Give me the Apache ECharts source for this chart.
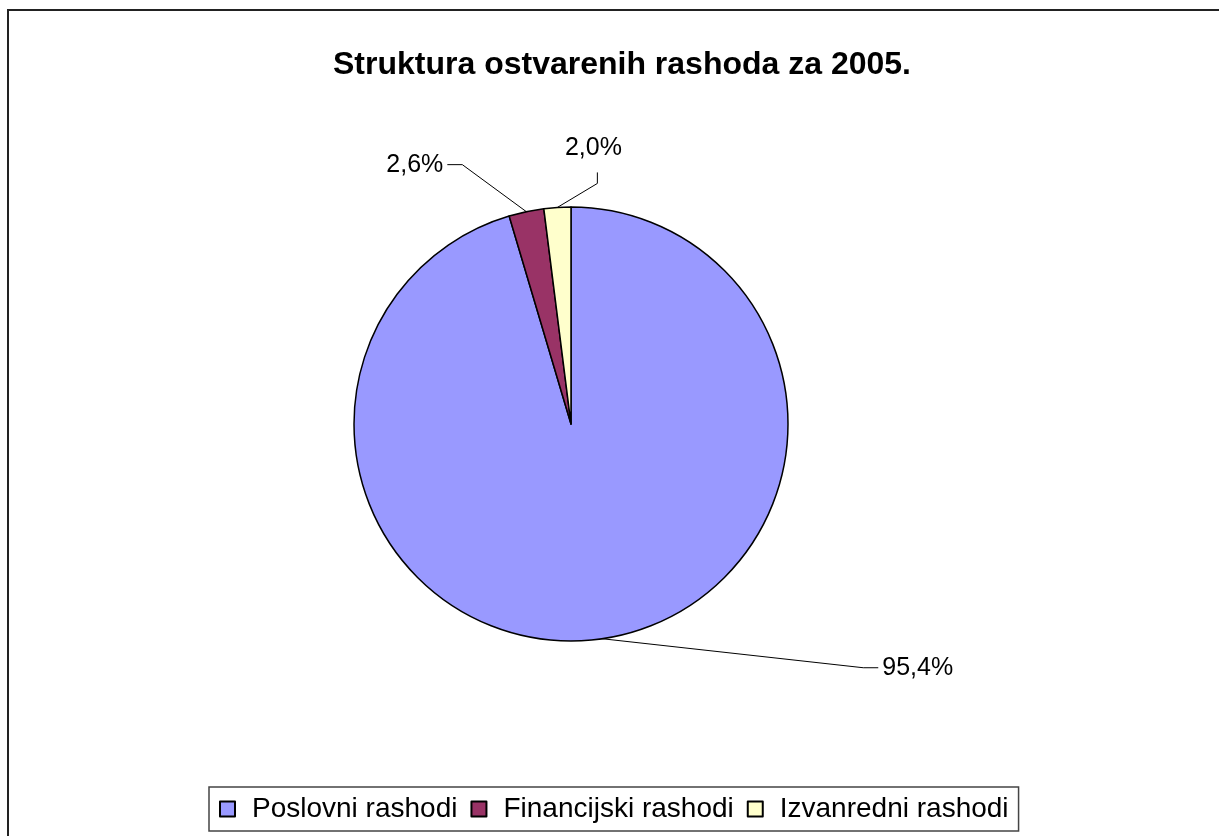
<!DOCTYPE html>
<html>
<head>
<meta charset="utf-8">
<script src="https://cdn.jsdelivr.net/npm/echarts@6/dist/echarts.min.js"></script>
<style>
  html, body { margin: 0; padding: 0; background: #fff; }
  #chart { width: 1219px; height: 836px; }
</style>
</head>
<body>
<div id="chart"></div>
<script>
const title = 'Struktura ostvarenih rashoda za 2005.';
const categories = ['Poslovni rashodi', 'Financijski rashodi', 'Izvanredni rashodi'];
const shares = [95.4, 2.6, 2.0];
const colors = ['#9999ff', '#993366', '#ffffcc'];

// leader line bends, relative to the slice edge point ECharts gives us
const bends = [
  { elbow: [261, 29], end: [276, 29], dx: 4, dy: 0, align: 'left', va: 'middle' },
  { elbow: [-64, -47], end: [-79, -47], dx: -4, dy: 0, align: 'right', va: 'middle' },
  { elbow: [40, -24], end: [40, -35], dx: -4, dy: -12, align: 'center', va: 'bottom' },
];

const fmt = (v) => v.toFixed(1).replace('.', ',') + '%';

const chart = echarts.init(document.getElementById('chart'));
chart.setOption({
  animation: false,
  color: colors,
  textStyle: { fontFamily: '"Liberation Sans", Arial, sans-serif', color: '#000' },
  title: {
    text: title,
    left: 328,
    top: 44,
    textStyle: { fontSize: 32, fontWeight: 'bold', color: '#000' },
  },
  graphic: [
    {
      // chart area frame, runs off the right and bottom of the picture
      type: 'rect',
      shape: { x: 8, y: 10, width: 1240, height: 900 },
      style: { fill: 'none', stroke: '#222', lineWidth: 2 },
      silent: true,
    },
  ],
  legend: {
    left: 209,
    top: 787,
    icon: 'rect',
    itemWidth: 15,
    itemHeight: 15,
    itemGap: 13,
    padding: [8, 10, 8, 10],
    borderColor: '#444',
    borderWidth: 1.5,
    textStyle: { fontSize: 28, color: '#000', padding: [0, 0, 0, 12] },
    data: categories,
  },
  series: [
    {
      type: 'pie',
      center: [571, 424],
      radius: 217,
      startAngle: 90,
      clockwise: true,
      avoidLabelOverlap: false,
      itemStyle: { borderColor: '#000', borderWidth: 1.5 },
      emphasis: { disabled: true },
      label: {
        show: true,
        position: 'outside',
        fontSize: 25,
        color: '#000',
        formatter: (p) => fmt(p.value),
      },
      labelLine: {
        show: true,
        length: 20,
        length2: 10,
        smooth: false,
        lineStyle: { color: '#000', width: 1 },
      },
      labelLayout: (params) => {
        const b = bends[params.dataIndex];
        const p0 = params.labelLinePoints[0];
        const p1 = [p0[0] + b.elbow[0], p0[1] + b.elbow[1]];
        const p2 = [p0[0] + b.end[0], p0[1] + b.end[1]];
        return {
          x: p2[0] + b.dx,
          y: p2[1] + b.dy,
          align: b.align,
          verticalAlign: b.va,
          labelLinePoints: [p0, p1, p2],
        };
      },
      data: categories.map((name, i) => ({ name, value: shares[i] })),
    },
  ],
});
</script>
</body>
</html>
